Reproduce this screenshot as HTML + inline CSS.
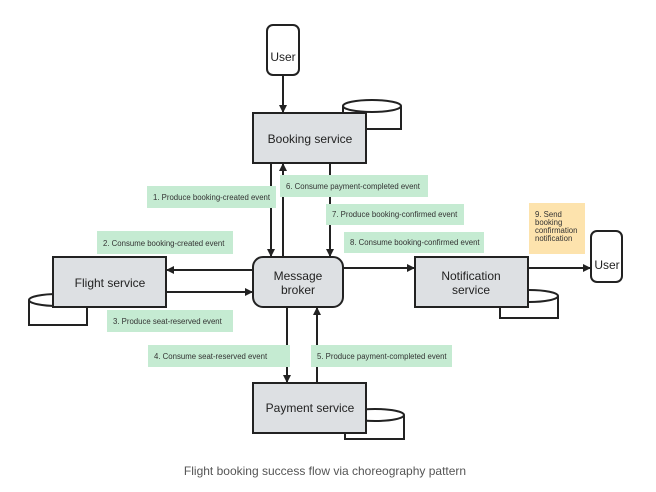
<!DOCTYPE html>
<html><head><style>
body{margin:0;background:#fff;width:656px;height:492px;overflow:hidden}
svg{display:block;font-family:"Liberation Sans","DejaVu Sans",sans-serif}
</style></head><body>
<svg width="656" height="492" viewBox="0 0 656 492">
<defs><marker id="a" markerWidth="8" markerHeight="8" refX="7" refY="4" orient="auto" markerUnits="userSpaceOnUse"><path d="M0,0 L8,4 L0,8z" fill="#222"/></marker></defs>
<g stroke="#222" stroke-width="2" fill="#fff">
<path d="M343,106 V129 H401 V106"/><ellipse cx="372" cy="106" rx="29" ry="6"/>
<path d="M29,300 V325 H87 V300"/><ellipse cx="58" cy="300" rx="29" ry="6"/>
<path d="M500,296 V318 H558 V296"/><ellipse cx="529" cy="296" rx="29" ry="6"/>
<path d="M345,415 V439 H404 V415"/><ellipse cx="375" cy="415" rx="29" ry="6"/>
<rect x="267" y="25" width="32" height="50" rx="6"/>
<rect x="591" y="231" width="31" height="51" rx="6"/>
<rect x="253" y="113" width="113" height="50" fill="#dde0e3"/>
<rect x="53" y="257" width="113" height="50" fill="#dde0e3"/>
<rect x="415" y="257" width="113" height="50" fill="#dde0e3"/>
<rect x="253" y="383" width="113" height="50" fill="#dde0e3"/>
<rect x="253" y="257" width="90" height="50" rx="10" fill="#dde0e3"/>
</g>
<g stroke="#222" stroke-width="2" fill="none" marker-end="url(#a)">
<path d="M283,75 V112"/>
<path d="M271,163 V256"/>
<path d="M283,256 V164"/>
<path d="M330,163 V256"/>
<path d="M253,270 H167"/>
<path d="M166,292 H252"/>
<path d="M343,268 H414"/>
<path d="M528,268 H590"/>
<path d="M287,307 V382"/>
<path d="M317,383 V308"/>
</g>
<g fill="#c5ebd2">
<rect x="147" y="186" width="129" height="22"/>
<rect x="280" y="175" width="148" height="22"/>
<rect x="326" y="204" width="138" height="21"/>
<rect x="344" y="232" width="140" height="21"/>
<rect x="97" y="231" width="136" height="23"/>
<rect x="107" y="310" width="126" height="22"/>
<rect x="148" y="345" width="142" height="22"/>
<rect x="311" y="345" width="141" height="22"/>
</g>
<rect x="529" y="203" width="56" height="51" fill="#fde3ad"/>
<g font-size="7.8" fill="#333">
<text x="153" y="200">1. Produce booking-created event</text>
<text x="286" y="189">6. Consume payment-completed event</text>
<text x="332" y="217">7. Produce booking-confirmed event</text>
<text x="350" y="245">8. Consume booking-confirmed event</text>
<text x="103" y="246">2. Consume booking-created event</text>
<text x="113" y="324">3. Produce seat-reserved event</text>
<text x="154" y="359">4. Consume seat-reserved event</text>
<text x="317" y="359">5. Produce payment-completed event</text>
<text x="535" y="217">9. Send</text>
<text x="535" y="225">booking</text>
<text x="535" y="233">confirmation</text>
<text x="535" y="241">notification</text>
</g>
<g font-size="12" fill="#222" text-anchor="middle">
<text x="283" y="61">User</text>
<text x="607" y="269">User</text>
<text x="310" y="143">Booking service</text>
<text x="110" y="287">Flight service</text>
<text x="298" y="280">Message</text>
<text x="298" y="294">broker</text>
<text x="471" y="280">Notification</text>
<text x="471" y="294">service</text>
<text x="310" y="412">Payment service</text>
</g>
<text x="325" y="475" font-size="12" fill="#555" text-anchor="middle">Flight booking success flow via choreography pattern</text>
</svg>
</body></html>
